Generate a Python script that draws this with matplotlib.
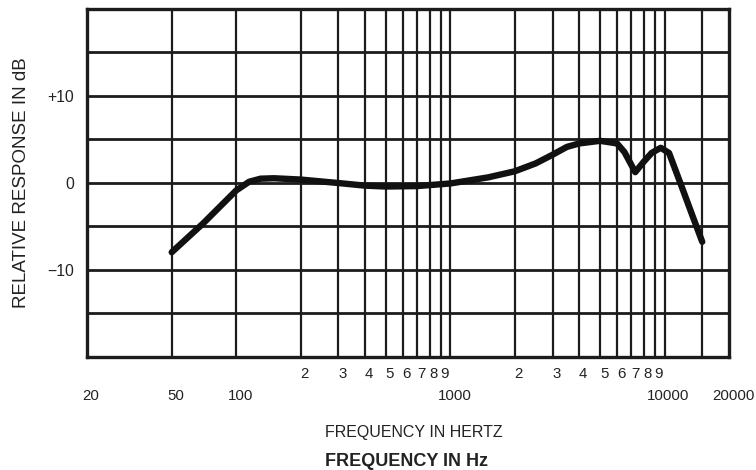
import matplotlib
matplotlib.use("Agg")
import matplotlib.pyplot as plt
import matplotlib.transforms as mtransforms
from matplotlib import font_manager

# ---- data ----
freq_hz = [50, 70, 100, 115, 130, 150, 200, 300, 400, 500, 700, 1000, 1500,
           2000, 2500, 3000, 3500, 4000, 5000, 6000, 6500, 7300, 8000, 8700,
           9600, 10500, 12000, 13500, 15000]
response_db = [-8.0, -4.7, -0.9, 0.1, 0.45, 0.5, 0.35, -0.05, -0.35, -0.45,
               -0.4, -0.1, 0.6, 1.3, 2.2, 3.2, 4.1, 4.5, 4.8, 4.5, 3.5, 1.2,
               2.4, 3.4, 4.0, 3.4, -0.4, -3.8, -6.8]

major_ticks = [20, 50, 100, 1000, 10000, 20000]
major_labels = ["20", "50", "100", "1000", "10000", "20000"]
minor_ticks = [200, 300, 400, 500, 600, 700, 800, 900,
               2000, 3000, 4000, 5000, 6000, 7000, 8000, 9000, 15000]
minor_labels = ["2", "3", "4", "5", "6", "7", "8", "9",
                "2", "3", "4", "5", "6", "7", "8", "9", ""]
y_grid = [-15, -10, -5, 0, 5, 10, 15]
y_tick_vals = [10, 0, -10]
y_tick_labels = ["+10", "0", "\u221210"]

# ---- fonts ----
names = {f.name for f in font_manager.fontManager.ttflist}
narrow = "Liberation Sans Narrow" if "Liberation Sans Narrow" in names else "Liberation Sans"
regular = "Liberation Sans"
tick_fs = 12.5 if narrow != regular else 10.8

fig = plt.figure(figsize=(7.56, 4.70), dpi=100)
ax = fig.add_axes([86.5 / 756, 1 - 356.7 / 470, (729 - 86.5) / 756, (356.7 - 8.5) / 470])

ax.set_xscale("log")
ax.set_xlim(20, 20000)
ax.set_ylim(-20, 20)

gcol = "#1c1c1c"
for f in major_ticks[1:-1] + minor_ticks:
    ax.axvline(f, color=gcol, lw=1.6, zorder=1)
for yv in y_grid:
    ax.axhline(yv, color=gcol, lw=2.0, zorder=1)

ax.plot(freq_hz, response_db, color="#111111", lw=4.6,
        solid_capstyle="round", solid_joinstyle="round", zorder=3)

for s in ax.spines.values():
    s.set_linewidth(2.4)
    s.set_color(gcol)

ax.xaxis.set_major_locator(matplotlib.ticker.FixedLocator(major_ticks))
ax.xaxis.set_minor_locator(matplotlib.ticker.FixedLocator(minor_ticks))
ax.xaxis.set_major_formatter(matplotlib.ticker.FixedFormatter(major_labels))
ax.xaxis.set_minor_formatter(matplotlib.ticker.FixedFormatter(minor_labels))
ax.tick_params(axis="x", which="major", length=0, pad=23.0, labelsize=tick_fs)
ax.tick_params(axis="x", which="minor", length=0, pad=7.5, labelsize=tick_fs)
ax.set_yticks(y_tick_vals)
ax.set_yticklabels(y_tick_labels)
ax.tick_params(axis="y", length=0, pad=9, labelsize=tick_fs + 0.5)

offset = mtransforms.ScaledTranslation(0.04, 0, fig.dpi_scale_trans)
for lab in ax.get_xticklabels(which="both"):
    lab.set_fontfamily(narrow)
    lab.set_color("#222222")
    lab.set_transform(lab.get_transform() + offset)
for lab in ax.get_yticklabels():
    lab.set_fontfamily(narrow)
    lab.set_color("#222222")

fig.text(21.7 / 756, 1 - 183 / 470, "RELATIVE RESPONSE IN dB", rotation=90,
         ha="center", va="center", fontsize=13.5, family=regular, color="#222222")
fig.text(414 / 756, 1 - 432 / 470, "FREQUENCY IN HERTZ",
         ha="center", va="center",
         fontsize=13.5 if narrow != regular else 11.5, family=narrow, color="#222222")
fig.text(406.5 / 756, 1 - 461.5 / 470, "FREQUENCY IN Hz", ha="center", va="center",
         fontsize=13, family=regular, weight="bold", color="#222222")

fig.savefig("out.png", dpi=100)
